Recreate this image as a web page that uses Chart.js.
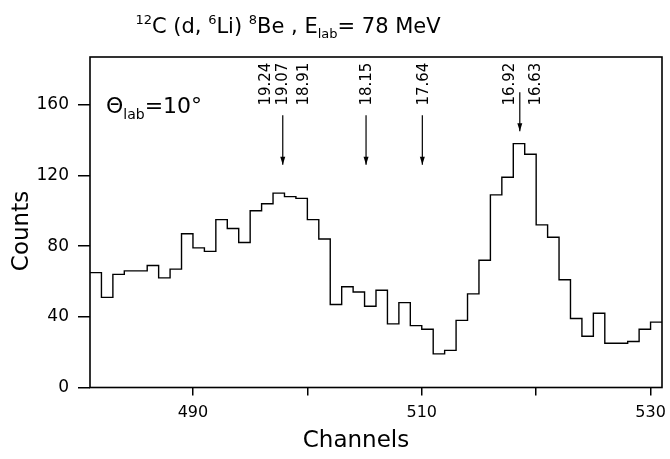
<!DOCTYPE html>
<html><head><meta charset="utf-8">
<script src="https://cdn.jsdelivr.net/npm/chart.js@4/dist/chart.umd.min.js"></script>
<style>html,body{margin:0;padding:0;background:#fff}#wrap{width:670px;height:459px}</style>
</head><body><div id="wrap"><canvas id="c" width="670" height="459"></canvas></div>
<script>
// ---- data ----
const binStart = [481,482,483,484,485,486,487,488,489,490,491,492,493,494,495,496,497,498,499,500,501,502,503,504,505,506,507,508,509,510,511,512,513,514,515,516,517,518,519,520,521,522,523,524,525,526,527,528,529,530];
const counts   = [65,51,64,66,66,69,62,67,87,79,77,95,90,82,100,104,110,108,107,95,84,47,57,54,46,55,36,48,35,33,19,21,38,53,72,109,119,138,132,92,85,61,39,29,42,25,25,26,33,37];
const binWidth = 1;
const xTickValues = [490,500,510,520,530];
const xTickLabels = ['490','','510','','530'];
const yTickValues = [0,40,80,120,160];
const levelLabels = ['19.24','19.07','18.91','18.15','17.64','16.92','16.63'];
const levelLabelChannels = [496.4,497.85,499.7,505.2,510.2,517.75,520.0];
const arrowChannels = [497.85,505.13,510.05,518.57];
const arrowFrom = [154,154,154,167];
const arrowTo   = [126,126,126,145];
const labelBase = 159.5;

const FONT = '"DejaVu Sans", sans-serif';

const points = binStart.map((x,i)=>({x:x, y:counts[i]}));
points.push({x: binStart[binStart.length-1]+binWidth, y: counts[counts.length-1]});

function drawRich(ctx, segs, x, y, align){
  let w = 0;
  segs.forEach(s=>{ctx.font = s.size+'px '+FONT; w += ctx.measureText(s.t).width + (s.gap||0);});
  let cx = align==='center' ? x - w/2 : x;
  ctx.textAlign = 'left'; ctx.textBaseline = 'alphabetic';
  segs.forEach(s=>{ctx.font = s.size+'px '+FONT; ctx.fillText(s.t, cx, y + (s.dy||0)); cx += ctx.measureText(s.t).width + (s.gap||0);});
}

const decor = {
  id:'decor',
  afterDraw(chart){
    const ctx = chart.ctx, a = chart.chartArea, xs = chart.scales.x, ys = chart.scales.y;
    ctx.save();
    ctx.strokeStyle = '#000'; ctx.fillStyle = '#000';
    // frame
    ctx.lineWidth = 1.6;
    ctx.strokeRect(a.left, a.top, a.right-a.left, a.bottom-a.top);
    // arrows
    ctx.lineWidth = 1.2;
    arrowChannels.forEach((c,i)=>{
      const px = xs.getPixelForValue(c), y1 = ys.getPixelForValue(arrowFrom[i]), y2 = ys.getPixelForValue(arrowTo[i]);
      ctx.beginPath(); ctx.moveTo(px, y1); ctx.lineTo(px, y2); ctx.stroke();
      ctx.beginPath(); ctx.moveTo(px-2.5, y2-8); ctx.lineTo(px, y2); ctx.lineTo(px+2.5, y2-8); ctx.closePath(); ctx.fill();
    });
    // level labels (rotated)
    ctx.font = '15px '+FONT; ctx.textAlign='left'; ctx.textBaseline='middle';
    levelLabels.forEach((t,i)=>{
      const px = xs.getPixelForValue(levelLabelChannels[i]), py = ys.getPixelForValue(labelBase);
      ctx.save(); ctx.translate(px, py); ctx.rotate(-Math.PI/2); ctx.fillText(t, 0, 0); ctx.restore();
    });
    // title
    drawRich(ctx, [
      {t:'12', size:13, dy:-9},
      {t:'C (d, ', size:21},
      {t:'6', size:13, dy:-9},
      {t:'Li) ', size:21},
      {t:'8', size:13, dy:-9},
      {t:'Be , E', size:21},
      {t:'lab', size:13, dy:5},
      {t:'= 78 MeV', size:21}
    ], 288, 33, 'center');
    // theta label
    drawRich(ctx, [
      {t:'\u0398', size:22},
      {t:'lab', size:14, dy:6},
      {t:'=10\u00B0', size:22}
    ], 106, 113, 'left');
    // axis titles
    ctx.font = '23px '+FONT; ctx.textAlign='center'; ctx.textBaseline='middle';
    ctx.fillText('Channels', 356, 441);
    ctx.save(); ctx.translate(22, 231); ctx.rotate(-Math.PI/2); ctx.fillText('Counts', 0, 0); ctx.restore();
    ctx.restore();
  }
};

new Chart(document.getElementById('c'), {
  type:'line',
  data:{datasets:[{data:points, stepped:'before', borderColor:'#000', borderWidth:1.4, pointRadius:0, fill:false, tension:0}]},
  options:{
    responsive:false, animation:false, devicePixelRatio:1,
    layout:{padding:{top:57, right:8, left:0, bottom:0}},
    plugins:{legend:{display:false}, title:{display:false}, tooltip:{enabled:false}},
    scales:{
      x:{type:'linear', min:481, max:531,
        afterFit(s){ s.height = 71.5; s.paddingLeft = 0; s.paddingRight = 0; },
        afterBuildTicks(s){ s.ticks = xTickValues.map(v=>({value:v})); },
        grid:{drawOnChartArea:false, drawTicks:true, tickLength:8, color:'#000', lineWidth:1.5},
        border:{display:false},
        ticks:{color:'#000', font:{family:FONT, size:16}, padding:8, maxRotation:0, autoSkip:false,
          callback(v){ const i = xTickValues.indexOf(v); return i>=0 ? xTickLabels[i] : ''; }}
      },
      y:{type:'linear', min:0, max:187,
        afterFit(s){ s.width = 90; s.paddingTop = 0; s.paddingBottom = 0; },
        afterBuildTicks(s){ s.ticks = yTickValues.map(v=>({value:v})); },
        grid:{drawOnChartArea:false, drawTicks:true, tickLength:12, color:'#000', lineWidth:1.5},
        border:{display:false},
        ticks:{color:'#000', font:{family:FONT, size:17}, padding:9,
          callback(v){ return String(v); }}
      }
    }
  },
  plugins:[decor]
});
</script></body></html>
